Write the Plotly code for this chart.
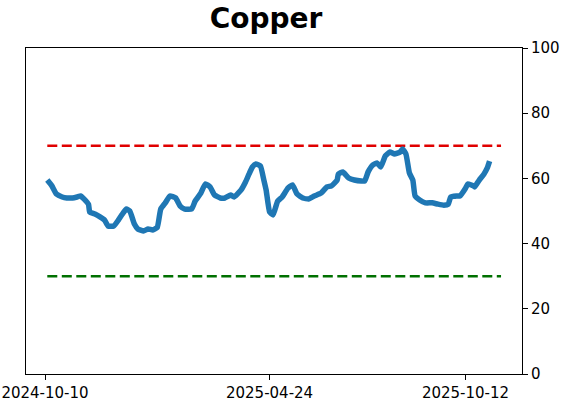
import plotly.graph_objects as go

dates = [
    "2024-10-12", "2024-10-16", "2024-10-20", "2024-10-25", "2024-10-29", "2024-11-03",
    "2024-11-07", "2024-11-10", "2024-11-13", "2024-11-17", "2024-11-18", "2024-11-23",
    "2024-11-27", "2024-12-01", "2024-12-04", "2024-12-09", "2024-12-13", "2024-12-16",
    "2024-12-20", "2024-12-23", "2024-12-27", "2024-12-30", "2025-01-04", "2025-01-08",
    "2025-01-12", "2025-01-16", "2025-01-19", "2025-01-23", "2025-01-27", "2025-02-01",
    "2025-02-05", "2025-02-09", "2025-02-15", "2025-02-18", "2025-02-23", "2025-02-27",
    "2025-03-03", "2025-03-07", "2025-03-12", "2025-03-16", "2025-03-21", "2025-03-24",
    "2025-03-30", "2025-04-03", "2025-04-06", "2025-04-09", "2025-04-12", "2025-04-16",
    "2025-04-19", "2025-04-21", "2025-04-24", "2025-04-27", "2025-05-01", "2025-05-05",
    "2025-05-10", "2025-05-14", "2025-05-18", "2025-05-23", "2025-05-28", "2025-06-02",
    "2025-06-08", "2025-06-13", "2025-06-17", "2025-06-22", "2025-06-23", "2025-06-27",
    "2025-07-02", "2025-07-07", "2025-07-13", "2025-07-16", "2025-07-19", "2025-07-23",
    "2025-07-27", "2025-07-30", "2025-08-03", "2025-08-07", "2025-08-11", "2025-08-16",
    "2025-08-18", "2025-08-21", "2025-08-24", "2025-08-27", "2025-08-29", "2025-09-02",
    "2025-09-07", "2025-09-13", "2025-09-18", "2025-09-23", "2025-09-27", "2025-09-29",
    "2025-10-04", "2025-10-07", "2025-10-12", "2025-10-14", "2025-10-19", "2025-10-20",
    "2025-10-24", "2025-10-28", "2025-10-31", "2025-11-02",
]
values = [
    59.5, 57.7, 55.2, 54.3, 54.0, 54.0,
    54.3, 54.6, 53.7, 52.0, 49.7, 49.0,
    48.2, 47.2, 45.4, 45.4, 47.2, 48.8,
    50.6, 50.0, 46.0, 44.5, 43.9, 44.5,
    44.2, 45.0, 50.6, 52.5, 54.6, 54.0,
    51.5, 50.6, 50.6, 53.0, 55.5, 58.3,
    57.4, 54.9, 54.0, 54.0, 54.9, 54.3,
    56.4, 58.9, 61.3, 63.5, 64.4, 63.8,
    59.5, 56.4, 49.7, 48.8, 53.0, 54.3,
    57.0, 58.0, 55.2, 54.0, 53.7, 54.6,
    55.5, 57.4, 57.7, 59.5, 61.3, 62.0,
    60.1, 59.5, 59.2, 59.2, 62.0, 64.1,
    64.7, 63.5, 66.9, 68.1, 67.5, 68.1,
    69.0, 67.5, 61.7, 59.5, 54.6, 53.4,
    52.5, 52.5, 52.1, 51.8, 52.1, 54.3,
    54.6, 54.6, 57.0, 58.3, 57.7, 57.4,
    59.5, 61.3, 63.2, 65.3,
]
band_dates = ["2024-10-12", "2025-11-12"]
upper_level = [70, 70]
lower_level = [30, 30]
x_ticks = ["2024-10-10", "2025-04-24", "2025-10-12"]
y_ticks = [0, 20, 40, 60, 80, 100]

fig = go.Figure()
fig.add_trace(go.Scatter(x=band_dates, y=upper_level, mode="lines",
                         line=dict(color="#e00000", width=2.6, dash="10px,4.5px"),
                         hoverinfo="skip"))
fig.add_trace(go.Scatter(x=band_dates, y=lower_level, mode="lines",
                         line=dict(color="#007000", width=2.6, dash="10px,4.5px"),
                         hoverinfo="skip"))
fig.add_trace(go.Scatter(x=dates, y=values, mode="lines",
                         line=dict(color="#1f77b4", width=5.5, shape="spline", smoothing=0.4)))

fig.update_layout(
    width=562, height=402,
    margin=dict(l=26, r=40, t=48, b=28, autoexpand=False),
    paper_bgcolor="white", plot_bgcolor="white",
    showlegend=False,
    font=dict(family="DejaVu Sans", size=15, color="black"),
    title=dict(text="<b>Copper</b>", x=266 / 562, xanchor="center",
               y=0.978, yanchor="top", font=dict(size=28, family="DejaVu Sans")),
    xaxis=dict(type="date", range=["2024-09-23 10:00", "2025-11-30 07:00"],
               tickvals=x_ticks, ticktext=x_ticks, automargin=False,
               showgrid=False, zeroline=False, showline=True, linecolor="black",
               linewidth=1, mirror=True, ticks="outside", ticklen=5, tickcolor="black"),
    yaxis=dict(range=[0, 100], tickvals=y_ticks, side="right", automargin=False,
               showgrid=False, zeroline=False, showline=True, linecolor="black",
               linewidth=1, mirror=True, ticks="outside", ticklen=5, tickcolor="black"),
)

fig.write_html("out.html")
